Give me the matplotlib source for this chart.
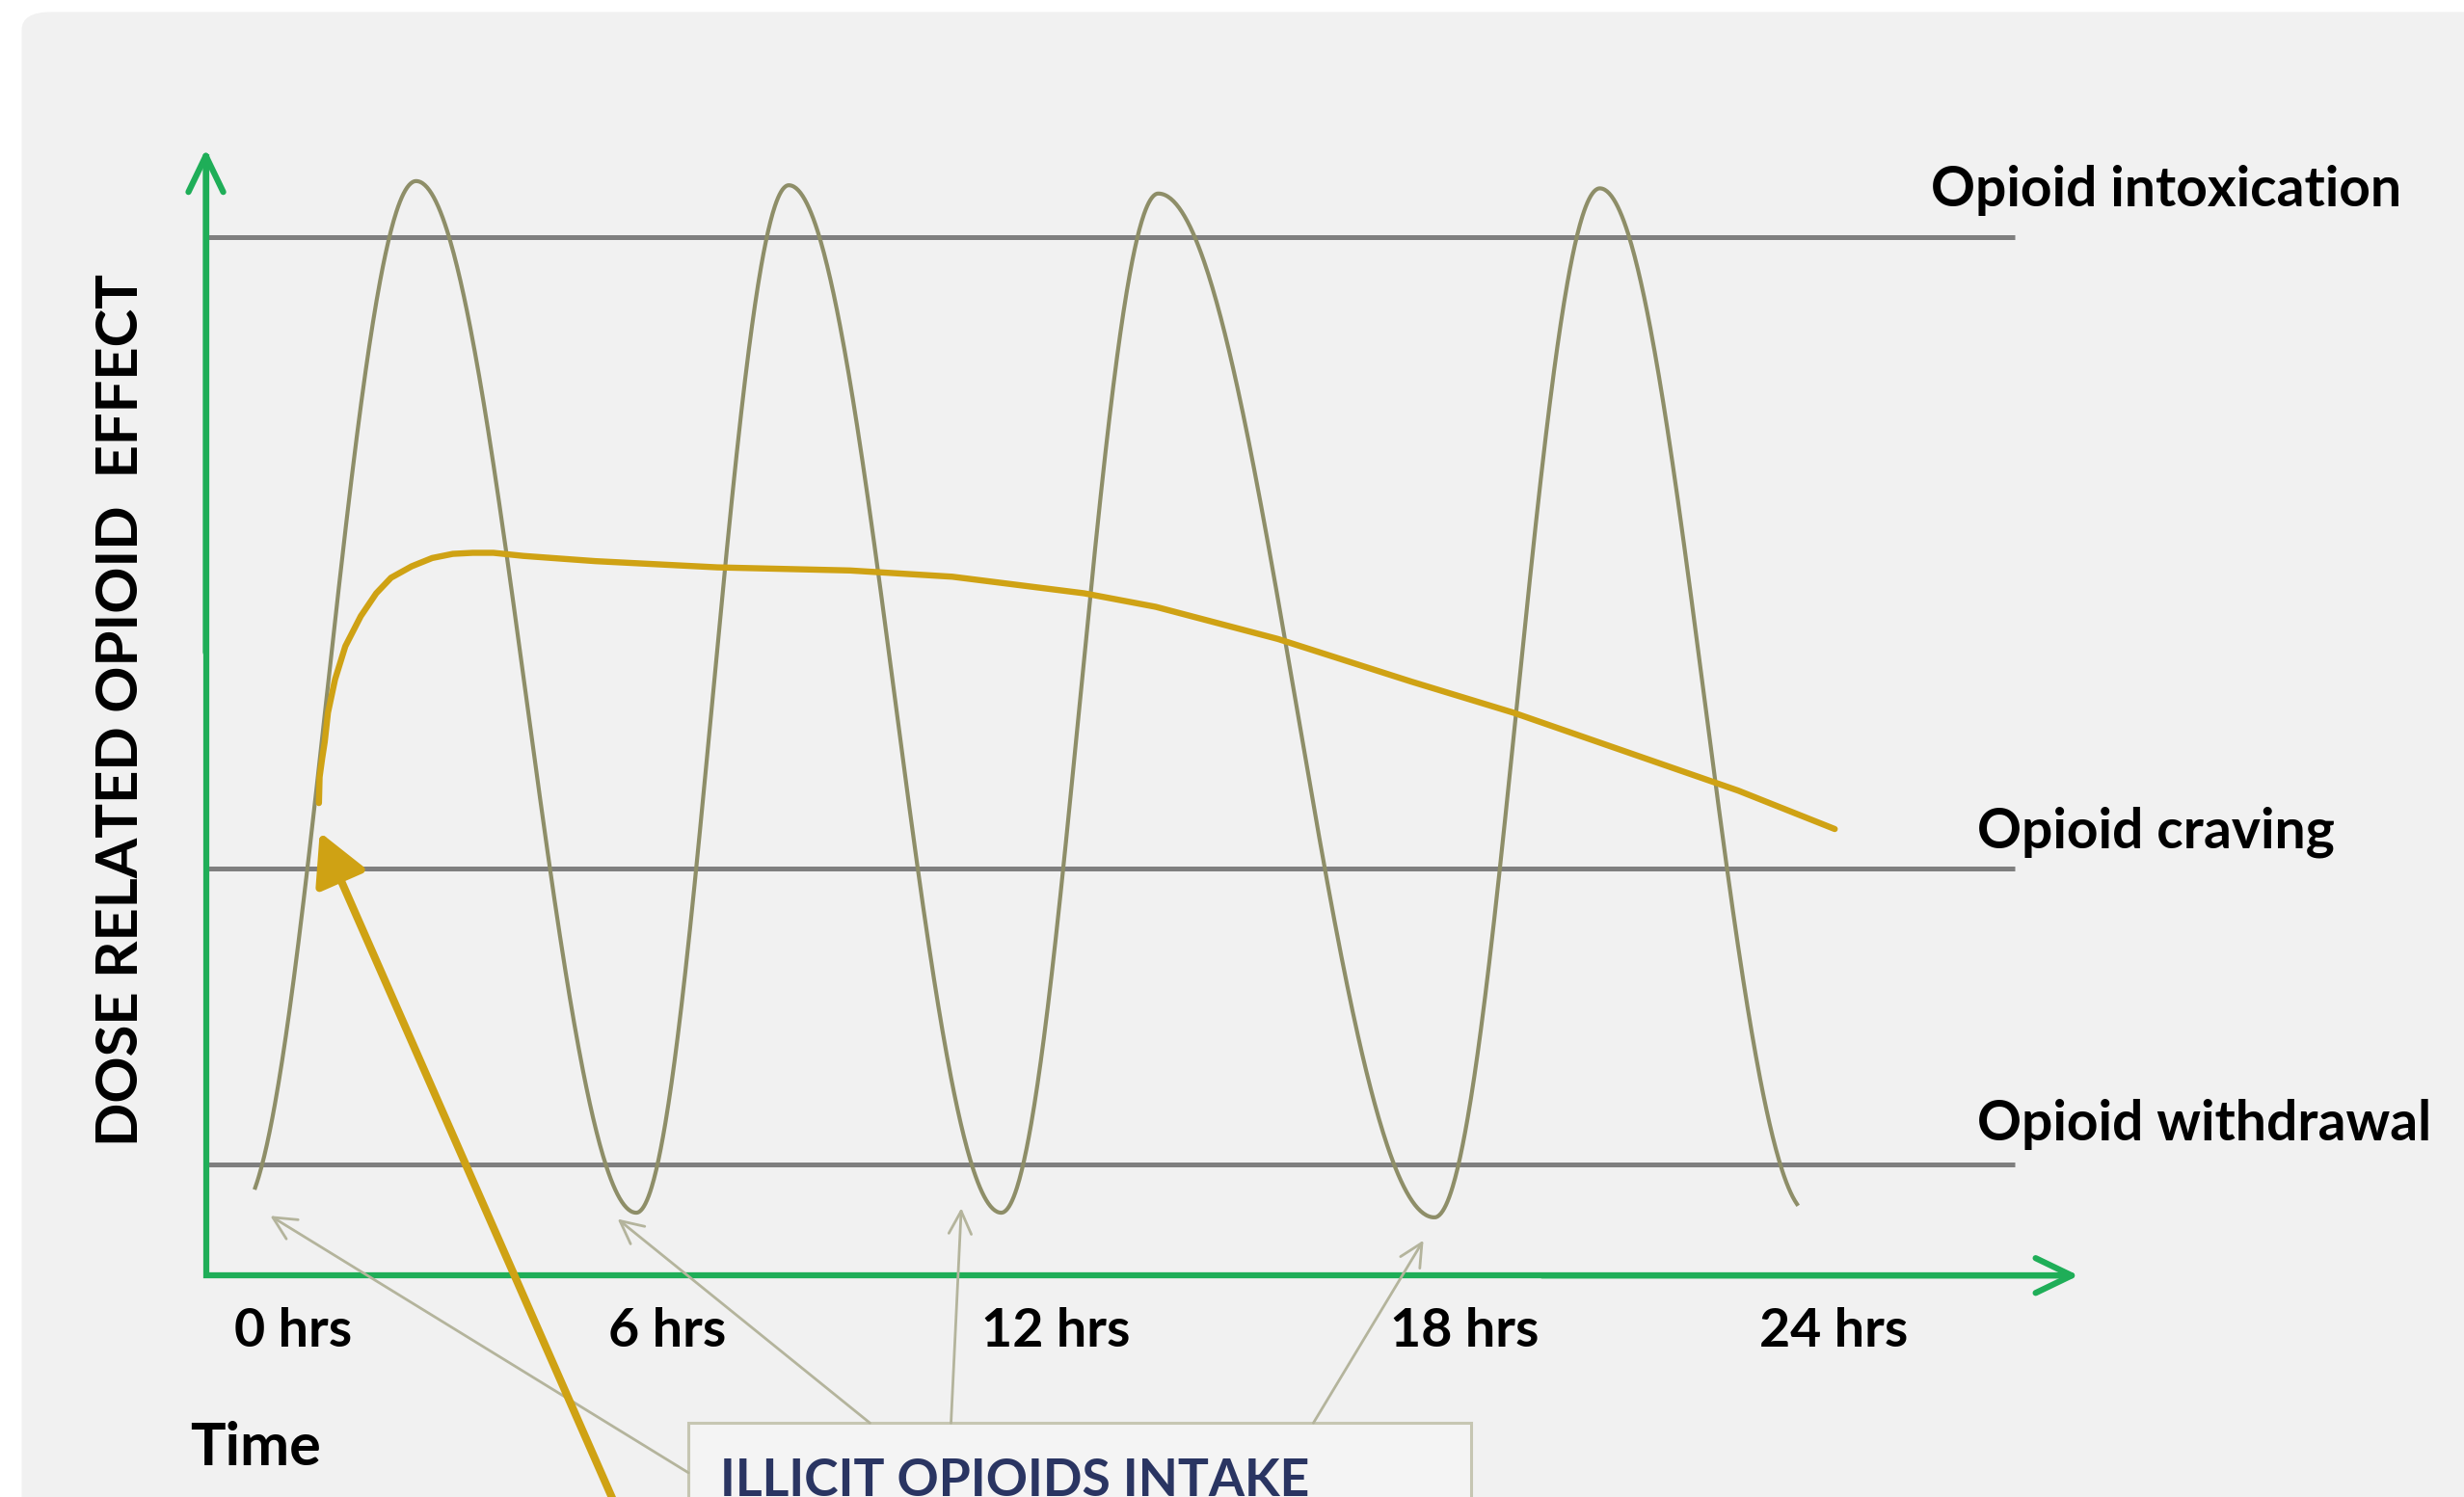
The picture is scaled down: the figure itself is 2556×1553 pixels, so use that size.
import numpy as np
import matplotlib
matplotlib.use("Agg")
import matplotlib.pyplot as plt
from matplotlib.patches import FancyBboxPatch, Rectangle

plt.rcParams['font.family'] = ['Lato', 'DejaVu Sans']

# ---------------- data ----------------
# effect levels (0 = time axis, 100 = intoxication threshold)
level_names = ["Opioid intoxication", "Opioid craving", "Opioid withdrawal"]
level_values = [100.0, 39.2, 10.7]

# illicit opioid effect: successive troughs / peaks (hours, effect)
wave_hours = [-0.27, 2.51, 5.93, 8.30, 11.60, 14.04, 18.33, 20.90, 24.16]
wave_levels = [6.0, 105.4, 6.05, 105.0, 6.05, 104.2, 5.6, 104.7, 6.0]
wave_start, wave_end = 0.0, 23.97

# maintenance (steady) opioid effect curve
steady_hours = [1.0, 1.01, 1.05, 1.09, 1.14, 1.25, 1.41, 1.65, 1.89, 2.12, 2.44,
                2.76, 3.08, 3.39, 3.71, 4.18, 5.29, 7.19, 9.25, 10.84, 12.89,
                14.0, 15.9, 17.97, 19.56, 23.05, 24.55]
steady_levels = [45.5, 48.0, 49.8, 51.4, 54.2, 57.4, 60.6, 63.5, 65.7, 67.2, 68.3,
                 69.1, 69.5, 69.6, 69.6, 69.3, 68.8, 68.2, 67.9, 67.3, 65.7,
                 64.4, 61.3, 57.2, 54.2, 46.7, 43.0]

tick_hours = [0, 6, 12, 18, 24]
tick_labels = ["0 hrs", "6 hrs", "12 hrs", "18 hrs", "24 hrs"]

# ---------------- layout ----------------
fig = plt.figure(figsize=(25.56, 15.53), dpi=100)
fig.patch.set_facecolor("white")

ax = fig.add_axes([0, 0, 1, 1])
ax.set_axis_off()
ax.set_xlim(-3.955, 34.326)
ax.set_ylim(-21.33, 122.84)

bg = FancyBboxPatch((0.0088, -0.05), 1.1, 1.05 - 0.0080,
                    boxstyle="round,pad=0,rounding_size=0.012",
                    transform=fig.transFigure, facecolor="#f1f1f1",
                    edgecolor="none", zorder=-10)
ax.add_patch(bg)

x_axis = -0.757
GREEN = "#1fae58"
GRAY = "#7f7f7f"
OLIVE = "#8e8e68"
GOLD = "#cfa214"
THIN = "#b4b49c"

# threshold lines
for v in level_values:
    ax.plot([x_axis, 27.34], [v, v], color=GRAY, lw=3.6, solid_capstyle="butt", zorder=2)

label_x = [26.04, 26.76, 26.76]
label_dy = [3.0, 1.95, 2.3]
for name, v, lx, dy in zip(level_names, level_values, label_x, label_dy):
    ax.text(lx, v + dy, name, fontsize=41, fontweight="bold", color="black",
            ha="left", va="baseline")

# oscillating illicit opioid curve (half-cosine between extrema)
hx, hy = [], []
for i in range(len(wave_hours) - 1):
    t = np.linspace(0, np.pi, 200)
    hx.append(wave_hours[i] + (wave_hours[i + 1] - wave_hours[i]) * t / np.pi)
    hy.append(wave_levels[i] + (wave_levels[i + 1] - wave_levels[i]) * (1 - np.cos(t)) / 2)
hx = np.concatenate(hx)
hy = np.concatenate(hy)
m = (hx >= wave_start) & (hx <= wave_end)
ax.plot(hx[m], hy[m], color=OLIVE, lw=3.0, zorder=3)

# steady curve
ax.plot(steady_hours, steady_levels, color=GOLD, lw=4.6, solid_capstyle="round",
        solid_joinstyle="round", zorder=4)

# green axes with arrow heads
ax.plot([x_axis, x_axis, 28.2], [108.0, 0, 0], color=GREEN, lw=4.5,
        solid_joinstyle="miter", solid_capstyle="butt", zorder=5)
ax.annotate("", xy=(x_axis, 108.5), xytext=(x_axis, 60),
            arrowprops=dict(arrowstyle="->,head_length=1.35,head_width=0.65",
                            color=GREEN, lw=4.5, shrinkA=0, shrinkB=0,
                            mutation_scale=20), zorder=5)
ax.annotate("", xy=(28.34, 0), xytext=(20, 0),
            arrowprops=dict(arrowstyle="->,head_length=1.35,head_width=0.65",
                            color=GREEN, lw=4.5, shrinkA=0, shrinkB=0,
                            mutation_scale=20), zorder=5)

# time tick labels
tick_offset = [-0.32, -0.50, -0.71, -0.36, -0.62]
for h, lab, off in zip(tick_hours, tick_labels, tick_offset):
    ax.text(h + off, -6.81, lab, fontsize=40, fontweight="bold", ha="left", va="baseline")

ax.text(-1.0, -18.23, "Time", fontsize=44, fontweight="bold", ha="left", va="baseline")

ax.text(-1.81, 54.5, "DOSE RELATED OPIOID  EFFECT", fontsize=43, fontweight="bold",
        rotation=90, rotation_mode="anchor", ha="center", va="baseline")

# illicit intake box
box = Rectangle((6.74, -30), 12.16, 30 - 14.2, facecolor="#f4f4f4",
                edgecolor="#c6c6b2", lw=2.2, zorder=6, clip_on=False)
ax.add_patch(box)
ax.text(7.23, -21.2, "ILLICIT OPIOIDS INTAKE", fontsize=38.5, fontweight="bold",
        color="#2a3562", ha="left", va="baseline", zorder=7)

thin_arrows = [((6.74, -18.99), (0.244, 5.75)),
               ((9.56, -14.2), (5.64, 5.45)),
               ((10.82, -14.2), (10.98, 6.5)),
               ((16.45, -14.2), (18.16, 3.39))]
for start, tip in thin_arrows:
    ax.annotate("", xy=tip, xytext=start,
                arrowprops=dict(arrowstyle="->,head_length=0.85,head_width=0.42",
                                color=THIN, lw=2.0, shrinkA=0, shrinkB=0,
                                mutation_scale=20), zorder=6)

# thick gold arrow to the steady curve
ax.annotate("", xy=(1.013, 42.7), xytext=(6.05, -28.4),
            arrowprops=dict(arrowstyle="-|>,head_length=1.6,head_width=0.85",
                            color=GOLD, lw=5.8, shrinkA=0, shrinkB=0,
                            mutation_scale=20), zorder=7)

fig.savefig("out.png", dpi=100, facecolor=fig.get_facecolor())
